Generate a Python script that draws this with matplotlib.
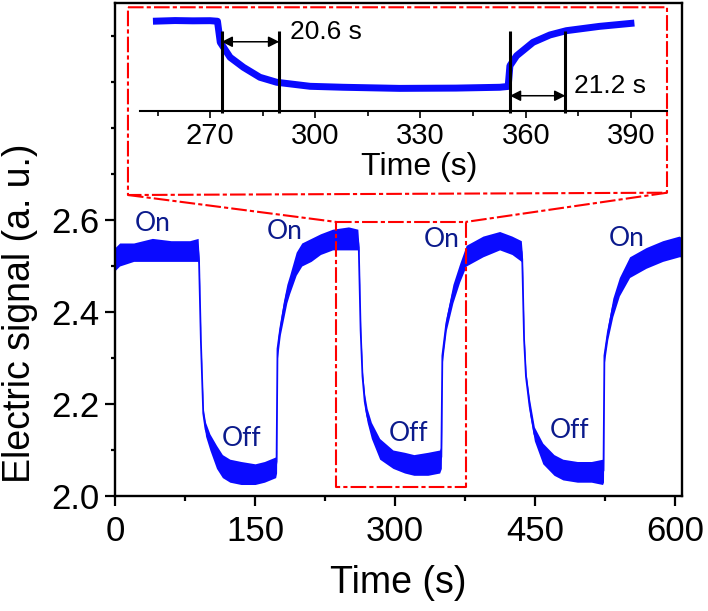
import matplotlib
matplotlib.use('Agg')
import matplotlib.pyplot as plt
import numpy as np

plt.rcParams['font.family'] = ['Liberation Sans', 'DejaVu Sans']

# Main trace: time (s) with lower / upper edge of the noisy signal band
time = [0, 5, 20, 40, 60, 80, 89, 90, 92, 94.5, 97, 101.6, 108.7, 115, 123, 135, 150, 160, 172,
        173, 174, 177, 180, 184, 187, 194, 200, 210, 220, 233, 250, 260,
        261, 263, 265, 267.4, 270, 274.5, 283.4, 297.6, 310, 320, 335, 347.6,
        349.4, 350.5, 354.7, 361.8, 369, 376, 394, 411.8, 425, 435,
        436, 438, 440, 443.9, 449, 458, 470, 479.5, 495, 510, 522,
        523, 524, 527.6, 533, 540, 551, 568.6, 586.4, 604, 608]
sig_low = [2.49, 2.50, 2.51, 2.51, 2.51, 2.51, 2.51, 2.50, 2.33, 2.17, 2.13, 2.10, 2.06, 2.04, 2.03, 2.025, 2.025, 2.03, 2.04,
           2.05, 2.30, 2.35, 2.38, 2.42, 2.44, 2.48, 2.50, 2.51, 2.525, 2.535, 2.535, 2.535,
           2.53, 2.35, 2.25, 2.19, 2.16, 2.125, 2.08, 2.06, 2.05, 2.045, 2.045, 2.05,
           2.06, 2.29, 2.36, 2.42, 2.465, 2.50, 2.52, 2.535, 2.525, 2.51,
           2.50, 2.33, 2.25, 2.18, 2.12, 2.07, 2.045, 2.035, 2.03, 2.03, 2.025,
           2.03, 2.29, 2.34, 2.39, 2.435, 2.475, 2.495, 2.51, 2.52, 2.52]
sig_high = [2.54, 2.55, 2.55, 2.56, 2.555, 2.555, 2.56, 2.52, 2.34, 2.19, 2.16, 2.135, 2.11, 2.09, 2.08, 2.075, 2.07, 2.075, 2.085,
            2.10, 2.34, 2.38, 2.42, 2.46, 2.48, 2.53, 2.55, 2.56, 2.57, 2.58, 2.585, 2.58,
            2.55, 2.37, 2.27, 2.22, 2.19, 2.16, 2.125, 2.10, 2.095, 2.09, 2.095, 2.10,
            2.11, 2.32, 2.39, 2.46, 2.505, 2.545, 2.565, 2.575, 2.565, 2.555,
            2.53, 2.35, 2.27, 2.21, 2.15, 2.115, 2.09, 2.08, 2.075, 2.075, 2.08,
            2.08, 2.32, 2.37, 2.43, 2.475, 2.52, 2.54, 2.555, 2.565, 2.56]

# Zoomed trace in the inset
inset_time = [253.7, 260, 265, 270, 272.1, 272.9, 275.7, 279.5, 284.2, 289, 298.5, 308, 324, 340, 352.6,
              355, 355.5, 357.4, 362.1, 366.9, 371.6, 381, 391]
inset_sig = [2.545, 2.55, 2.548, 2.549, 2.545, 2.393, 2.285, 2.213, 2.141, 2.105, 2.076, 2.069, 2.061, 2.063, 2.069,
             2.075, 2.224, 2.296, 2.393, 2.446, 2.477, 2.508, 2.532]

# Response / recovery markers in the inset
resp_lines = [273.3, 289.7]
recov_lines = [355.5, 371.3]
resp_label = '20.6 s'
recov_label = '21.2 s'

# On / Off labels
state_text = ['On', 'Off', 'On', 'Off', 'On', 'Off', 'On']
state_x = [40, 135.5, 182, 313.9, 349.6, 486.9, 547.5]
state_y = [2.593, 2.125, 2.575, 2.136, 2.557, 2.143, 2.56]

fig = plt.figure(figsize=(7.08, 6.11), dpi=100)
ax = fig.add_axes([0.1624, 0.1882, 0.8008, 0.8069])

time = np.array(time)
sig_low = np.array(sig_low)
sig_high = np.array(sig_high)
ax.fill_between(time, sig_low, sig_high, color='#0a0aff', lw=0)
ax.plot(time, (sig_low + sig_high) / 2, color='#0a0aff', lw=1.3)

for txt, x, y in zip(state_text, state_x, state_y):
    ax.text(x, y, txt, color='#0b1a8c', fontsize=19, family='Lato', ha='center', va='center')

ax.set_xlim(0, 607)
ax.set_ylim(2.0, 3.0717)
ax.set_xticks([0, 150, 300, 450, 600])
ax.set_xticks([75, 225, 375, 525], minor=True)
ax.set_yticks([2.0, 2.2, 2.4, 2.6])
ax.set_yticks([2.1, 2.3, 2.5, 2.7, 2.8, 2.9, 3.0], minor=True)
ax.yaxis.set_major_formatter(matplotlib.ticker.FormatStrFormatter('%.1f'))
ax.tick_params(which='major', direction='out', length=7, width=1.6, labelsize=25, pad=4)
ax.tick_params(axis='x', which='major', pad=7)
ax.tick_params(which='minor', direction='out', length=3.2, width=1.6)
ax.tick_params(axis='x', which='minor', length=3.8)
for s in ax.spines.values():
    s.set_linewidth(1.7)

ax.set_xlabel('Time (s)', fontsize=27)
ax.set_ylabel('Electric signal (a. u.)', fontsize=27)
ax.xaxis.set_label_coords(0.5, -0.14)
ax.yaxis.set_label_coords(-0.136, 0.371)

# Red dash-dot boxes and the connecting lines
red_ls = (0, (7.5, 1.5, 2, 1.5))
big_box_x = [13.9, 591.0, 591.0, 13.9, 13.9]
big_box_y = [3.0624, 3.0624, 2.6593, 2.6543, 3.0624]
small_box_x = [237.0, 375.3, 375.3, 237.0, 237.0]
small_box_y = [2.5957, 2.5957, 2.0202, 2.0202, 2.5957]
ax.plot(big_box_x, big_box_y, color='red', lw=1.5, ls=red_ls, clip_on=False)
ax.plot(small_box_x, small_box_y, color='red', lw=1.5, ls=red_ls)
ax.plot([13.9, 237.0], [2.6543, 2.5957], color='red', lw=1.5, ls=red_ls)
ax.plot([591.0, 375.3], [2.6593, 2.5957], color='red', lw=1.5, ls=red_ls)

# Inset
ins = fig.add_axes([0.1977, 0.8188, 0.7444, 0.168])
ins.patch.set_alpha(0)
ins.plot(inset_time, inset_sig, color='#0a0aff', lw=5, solid_capstyle='butt')
ins.set_xlim(250, 400.3)
ins.set_ylim(1.90, 2.64)
for side in ['top', 'right', 'left']:
    ins.spines[side].set_visible(False)
ins.spines['bottom'].set_linewidth(1.5)
ins.set_yticks([])
ins.set_xticks([270, 300, 330, 360, 390])
ins.set_xticks([255, 285, 315, 345, 375], minor=True)
ins.tick_params(which='major', direction='out', length=5, width=1.2, labelsize=21, pad=3)
ins.tick_params(which='minor', direction='out', length=3.5, width=1.2)
ins.set_xlabel('Time (s)', fontsize=23)
ins.xaxis.set_label_coords(0.53, -0.40)

ins.vlines(resp_lines + recov_lines, 1.885, 2.475, color='black', lw=2.2, clip_on=False)
arrow = dict(arrowstyle='<|-|>', color='black', lw=1.1, mutation_scale=16, shrinkA=0, shrinkB=0)
ins.annotate('', xy=(resp_lines[0], 2.397), xytext=(resp_lines[1], 2.397), arrowprops=arrow)
ins.annotate('', xy=(recov_lines[0], 2.008), xytext=(recov_lines[1], 2.008), arrowprops=arrow)
ins.text(292.8, 2.465, resp_label, fontsize=19, va='center', ha='left')
ins.text(373.7, 2.075, recov_label, fontsize=19, va='center', ha='left')

plt.savefig('out.png', dpi=100)
plt.close()
